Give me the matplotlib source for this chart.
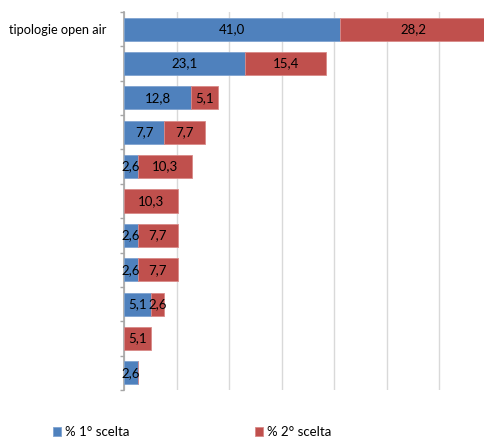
import matplotlib
matplotlib.use("Agg")
import matplotlib.pyplot as plt
from matplotlib.ticker import MultipleLocator, FixedLocator

plt.rcParams['font.family'] = ['Lato', 'DejaVu Sans']

categories = ["tipologie open air", "", "", "", "", "", "", "", "", "", ""]
first_choice = [41.0, 23.1, 12.8, 7.7, 2.6, 0.0, 2.6, 2.6, 5.1, 0.0, 2.6]
second_choice = [28.2, 15.4, 5.1, 7.7, 10.3, 10.3, 7.7, 7.7, 2.6, 5.1, 0.0]
series_names = ["% 1° scelta", "% 2° scelta"]

blue = "#4F81BD"
red = "#C0504D"

fig = plt.figure(figsize=(4.84, 4.38), dpi=100)
ax = fig.add_axes([124/484, 48/438, 1 - 124/484, (390 - 12)/438])

y = list(range(len(categories)))
b1 = ax.barh(y, first_choice, height=0.67, color=blue, edgecolor="#7FA3D0", linewidth=0.6,
             label=series_names[0], zorder=3)
b2 = ax.barh(y, second_choice, left=first_choice, height=0.67, color=red, edgecolor="#D98A88",
             linewidth=0.6, label=series_names[1], zorder=3)

fs = 9.5
for i in y:
    if first_choice[i] > 0:
        ax.text(first_choice[i] / 2, i, f"{first_choice[i]:.1f}".replace(".", ","),
                ha="center", va="center", fontsize=fs, color="black", zorder=4, clip_on=False)
    if second_choice[i] > 0:
        ax.text(first_choice[i] + second_choice[i] / 2, i,
                f"{second_choice[i]:.1f}".replace(".", ","),
                ha="center", va="center", fontsize=fs, color="black", zorder=4, clip_on=False)

ax.set_xlim(0, 360/5.258)
ax.set_ylim(len(categories) - 0.5, -0.5)
ax.xaxis.set_major_locator(MultipleLocator(10))
ax.grid(axis="x", color="#D9D9D9", linewidth=1, zorder=0)
ax.tick_params(axis="x", length=0, labelbottom=False)
ax.set_yticks(y)
ax.set_yticklabels(categories, fontsize=9.2)
ax.tick_params(axis="y", which="major", length=0, pad=13)
ax.yaxis.set_minor_locator(FixedLocator([i + 0.5 for i in range(-1, len(categories))]))
ax.tick_params(axis="y", which="minor", length=3, color="#A6A6A6", width=1)
for s in ["top", "right", "bottom"]:
    ax.spines[s].set_visible(False)
ax.spines["left"].set_color("#A6A6A6")
ax.spines["left"].set_linewidth(1.2)

fig.legend(handles=[b1, b2], labels=series_names, loc="lower left",
           bbox_to_anchor=(48/484, -0.012), ncol=2, frameon=False, fontsize=9.5,
           handlelength=0.6, handleheight=0.6, handletextpad=0.3, columnspacing=9.5,
           borderaxespad=0.0)

fig.savefig("out.png", dpi=100)
